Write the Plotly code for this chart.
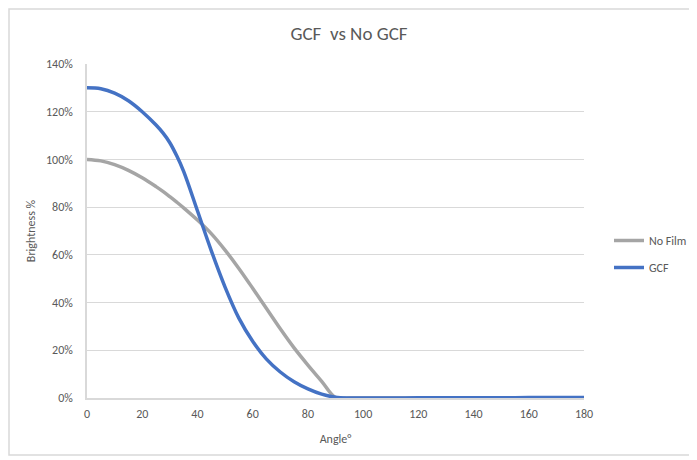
import plotly.graph_objects as go

angles = [0, 5, 10, 15, 20, 25, 27.5, 30, 32.5, 35, 40, 45, 50, 55, 60, 65, 70, 75, 80, 85, 90,
          95, 100, 110, 120, 130, 140, 150, 160, 170, 180]
no_film = [100, 99.4, 97.8, 95.4, 92.3, 88.6, 86.6, 84.4, 82.1, 79.7, 74.6, 68.9, 62, 54.3, 46, 37.5, 29, 21,
           13.8, 7.0, 0.2, 0, 0, 0, 0, 0, 0, 0, 0, 0, 0]
gcf = [130, 129.6, 127.8, 124.6, 120, 114.4, 111.1, 107, 101.5, 95, 78.5, 61.8, 46.5, 33.5, 23.8, 16.3, 10.9,
       6.8, 3.8, 1.6, 0.3, 0, 0, 0, 0.1, 0.1, 0.1, 0.1, 0.2, 0.2, 0.2]
y_ticks = [0, 20, 40, 60, 80, 100, 120, 140]
y_labels = ["0%", "20%", "40%", "60%", "80%", "100%", "120%", "140%"]
x_ticks = [0, 20, 40, 60, 80, 100, 120, 140, 160, 180]

FONT = "Carlito, Calibri, 'Liberation Sans Narrow', 'Open Sans', sans-serif"
TXT = "#595959"

fig = go.Figure()
fig.add_trace(go.Scatter(x=angles, y=no_film, name="No Film", mode="lines",
                         line=dict(color="#A5A5A5", width=3.5, shape="spline", smoothing=1),
                         legendgroup="a"))
fig.add_trace(go.Scatter(x=angles, y=gcf, name="GCF", mode="lines",
                         line=dict(color="#4472C4", width=3.5, shape="spline", smoothing=1),
                         legendgroup="b"))

# page is offset by the body's 8px margin
OFF = 8
W, H = 697 - OFF, 460 - OFF
L, T = 87 - OFF, 64 - OFF
R = W - (584 - OFF)
B = H - (398 - OFF)
pw, ph = W - L - R, H - T - B

def px_x(px):
    return (px - OFF - L) / pw

def px_y(py):
    return (H - B - (py - OFF)) / ph

fig.update_layout(
    width=W, height=H,
    margin=dict(l=L, r=R, t=T, b=B),
    paper_bgcolor="white", plot_bgcolor="white",
    font=dict(family=FONT, size=12, color=TXT),
    title=dict(text="GCF  vs No GCF", x=(349 - OFF) / W, xanchor="center",
               y=1 - (33 - OFF) / H, yanchor="middle",
               font=dict(family=FONT, size=19, color=TXT)),
    xaxis=dict(range=[0, 180], tickvals=x_ticks, showgrid=False, zeroline=False,
               showline=True, linecolor="#d9d9d9", linewidth=1.5, ticks="",
               ticklabelstandoff=4,
               title=dict(text="Angle°", standoff=14, font=dict(size=12, color=TXT)),
               tickfont=dict(size=12, color=TXT), fixedrange=True),
    yaxis=dict(range=[0, 140], tickvals=y_ticks, ticktext=y_labels, showgrid=True,
               gridcolor="#d9d9d9", gridwidth=1, zeroline=False,
               showline=True, linecolor="#d9d9d9", linewidth=1.5, ticks="",
               ticklabelstandoff=10,
               title=dict(text="Brightness %", standoff=8, font=dict(size=12, color=TXT)),
               tickfont=dict(size=12, color=TXT), fixedrange=True),
    legend=dict(xref="container", yref="container",
                x=(609 - OFF) / W, y=1 - (254 - OFF) / H, xanchor="left", yanchor="middle",
                font=dict(size=12, color=TXT), tracegroupgap=8,
                bgcolor="rgba(0,0,0,0)"),
    shapes=[dict(type="rect", xref="paper", yref="paper",
                 x0=px_x(OFF + 1), x1=px_x(705), y0=px_y(455), y1=px_y(OFF + 1),
                 line=dict(color="#d9d9d9", width=1.5), fillcolor="rgba(0,0,0,0)",
                 layer="below")],
)

fig.write_html("out.html")
